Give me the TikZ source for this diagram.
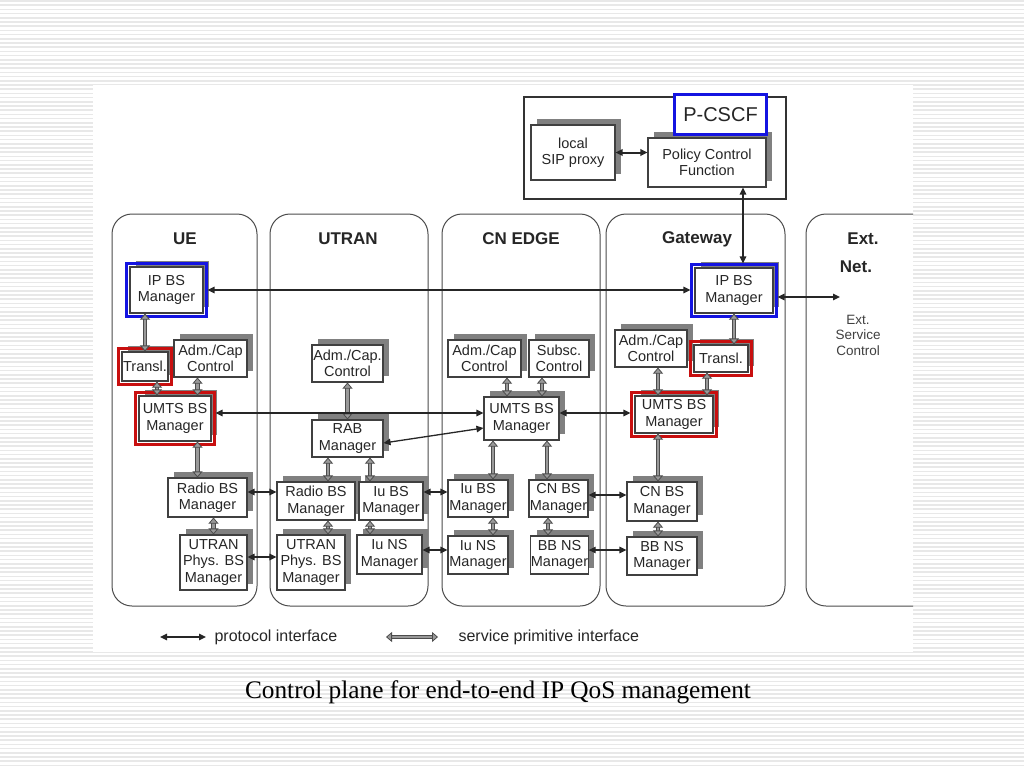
\documentclass[tikz,border=0pt]{standalone}
\usepackage{fontspec}
\setmainfont{Liberation Sans}
\newfontfamily\captionfont{Liberation Serif}
\usetikzlibrary{arrows.meta,shadows,fit}

\begin{document}
\begin{tikzpicture}[x=1pt,y=-1pt,
  box/.style={draw=black!75, line width=1.1pt, fill=white, text=black!85, align=center,
    inner sep=0pt, font=\fontsize{14.5}{16.5}\selectfont,
    general shadow={fill=black!50, shadow xshift=6pt, shadow yshift=6pt}},
  hlblue/.style={draw=myblue, line width=3pt, inner sep=2.5pt},
  hlred/.style={draw=myred, line width=3pt, inner sep=2.5pt},
  panel/.style={draw=black!70, line width=1pt, rounded corners=20pt},
  title/.style={font=\fontsize{17}{18}\selectfont\bfseries, text=black!85},
  proto/.style={draw=black!85, line width=1.3pt,
    {Triangle[length=7pt,width=6.5pt]}-{Triangle[length=7pt,width=6.5pt]}},
  spi/.style={draw=black!70, line width=1pt, double=black!40, double distance=2.8pt,
    {Triangle[length=6pt,width=10pt,fill=black!40,line width=0.8pt]}-{Triangle[length=6pt,width=10pt,fill=black!40,line width=0.8pt]}}]
  % Définir les couleurs du schéma
  \definecolor{myblue}{RGB}{20,20,225}
  \definecolor{myred}{RGB}{200,15,15}

  \useasboundingbox (0,0) rectangle (1024,768);

  % Dessiner le fond rayé et la zone blanche
  \foreach \i in {0,...,182}
    \draw[black!9, line width=1.6pt] (0,\i*4.2+1) -- (1024,\i*4.2+1);
  \fill[white] (93,85) rectangle (913,652);

  % Dessiner les colonnes
  \draw[panel] (112,214) rectangle (257,606);
  \draw[panel] (270,214) rectangle (428,606);
  \draw[panel] (442,214) rectangle (600,606);
  \draw[panel] (606,214) rectangle (785,606);
  \draw[panel] (913,214) -- (806,214) -- (806,606) -- (913,606);

  \node[title] at (185,239) (tue) {UE};
  \node[title] at (348,239) (tutran) {UTRAN};
  \node[title] at (521,239) (tcn) {CN EDGE};
  \node[title] at (697,239) (tgw) {Gateway};
  \node[title] at (863,239) (text) {Ext.};
  \node[title] at (856,267) (tnet) {Net.};
  \node[text=black!75, align=center, font=\fontsize{13.5}{15.5}\selectfont] at (858,335) (extsc) {Ext.\\Service\\Control};

  % Le bloc P-CSCF
  \draw[draw=black!80, line width=1.1pt] (524,97) rectangle (786,199);
  \node[box, minimum width=84pt, minimum height=55pt] at (573,152.5) (sip) {local\\SIP proxy};
  \node[box, minimum width=118pt, minimum height=49pt] at (707,162.5) (pcf) {Policy Control\\Function};
  \node[draw=myblue, line width=3pt, fill=white, minimum width=92pt, minimum height=40pt,
    font=\fontsize{20}{22}\selectfont, text=black!85] at (720.5,114.5) (pcscf) {P-CSCF};

  % Colonne UE
  \node[box, minimum width=73pt, minimum height=46pt] at (166.5,290) (ueip) {IP BS\\Manager};
  \node[box, minimum width=46pt, minimum height=29pt] at (145,366.5) (uetr) {Transl.};
  \node[box, minimum width=73pt, minimum height=37pt] at (210.5,358.5) (ueadm) {Adm./Cap\\Control};
  \node[box, minimum width=72pt, minimum height=45pt] at (175,418.5) (ueumts) {UMTS BS\\Manager};
  \node[box, minimum width=79pt, minimum height=39pt] at (207.5,497.5) (ueradio) {Radio BS\\Manager};
  \node[box, minimum width=67pt, minimum height=55pt] at (213.5,562.5) (uephys) {UTRAN\\Phys. BS\\Manager};
  \node[hlblue, fit=(ueip)] (ueiphl) {};
  \node[hlred, fit=(uetr)] (uetrhl) {};
  \node[hlred, fit=(ueumts)] (ueumtshl) {};

  % Colonne UTRAN
  \node[box, minimum width=71pt, minimum height=37pt] at (347.5,363.5) (utadm) {Adm./Cap.\\Control};
  \node[box, minimum width=71pt, minimum height=37pt] at (347.5,438.5) (utrab) {RAB\\Manager};
  \node[box, minimum width=78pt, minimum height=38pt] at (316,501) (utradio) {Radio BS\\Manager};
  \node[box, minimum width=64pt, minimum height=38pt] at (391,501) (utiubs) {Iu BS\\Manager};
  \node[box, minimum width=68pt, minimum height=55pt] at (311,562.5) (utphys) {UTRAN\\Phys. BS\\Manager};
  \node[box, minimum width=65pt, minimum height=39pt] at (389.5,554.5) (utiuns) {Iu NS\\Manager};

  % Colonne CN EDGE
  \node[box, minimum width=73pt, minimum height=37pt] at (484.5,358.5) (cnadm) {Adm./Cap\\Control};
  \node[box, minimum width=60pt, minimum height=37pt] at (559,358.5) (cnsub) {Subsc.\\Control};
  \node[box, minimum width=75pt, minimum height=43pt] at (521.5,418.5) (cnumts) {UMTS BS\\Manager};
  \node[box, minimum width=60pt, minimum height=37pt] at (478,498.5) (cniubs) {Iu BS\\Manager};
  \node[box, minimum width=59pt, minimum height=37pt] at (558.5,498.5) (cncnbs) {CN BS\\Manager};
  \node[box, minimum width=60pt, minimum height=38pt] at (478,555) (cniuns) {Iu NS\\Manager};
  \node[box, minimum width=57pt, minimum height=38pt] at (559.5,555) (cnbbns) {BB NS\\Manager};

  % Colonne Gateway
  \node[box, minimum width=78pt, minimum height=45pt] at (734,290.5) (gwip) {IP BS\\Manager};
  \node[box, minimum width=72pt, minimum height=37pt] at (651,348.5) (gwadm) {Adm./Cap\\Control};
  \node[box, minimum width=54pt, minimum height=27pt] at (721,358.5) (gwtr) {Transl.};
  \node[box, minimum width=78pt, minimum height=37pt] at (674,414.5) (gwumts) {UMTS BS\\Manager};
  \node[box, minimum width=70pt, minimum height=39pt] at (662,501.5) (gwcnbs) {CN BS\\Manager};
  \node[box, minimum width=70pt, minimum height=38pt] at (662,556) (gwbbns) {BB NS\\Manager};
  \node[hlblue, fit=(gwip)] (gwiphl) {};
  \node[hlred, fit=(gwtr)] (gwtrhl) {};
  \node[hlred, fit=(gwumts)] (gwumtshl) {};

  % Interfaces primitives de service
  \draw[spi] (uetr.north) -- (uetr.north |- ueip.south);
  \draw[spi] ([xshift=12pt]uetr.south) -- ([xshift=12pt]uetr.south |- ueumts.north);
  \draw[spi] ([xshift=-13pt]ueadm.south) -- ([xshift=-13pt]ueadm.south |- ueumts.north);
  \draw[spi] ([xshift=-10pt]ueradio.north) -- ([xshift=-10pt]ueradio.north |- ueumts.south);
  \draw[spi] (uephys.north) -- (uephys.north |- ueradio.south);
  \draw[spi] (utadm.south) -- (utrab.north);
  \draw[spi] ([xshift=12pt]utradio.north) -- ([xshift=12pt]utradio.north |- utrab.south);
  \draw[spi] ([xshift=-21pt]utiubs.north) -- ([xshift=-21pt]utiubs.north |- utrab.south);
  \draw[spi] ([xshift=12pt]utradio.south) -- ([xshift=12pt]utradio.south |- utphys.north);
  \draw[spi] ([xshift=-21pt]utiubs.south) -- ([xshift=-21pt]utiubs.south |- utiuns.north);
  \draw[spi] ([xshift=22.5pt]cnadm.south) -- ([xshift=22.5pt]cnadm.south |- cnumts.north);
  \draw[spi] ([xshift=-17pt]cnsub.south) -- ([xshift=-17pt]cnsub.south |- cnumts.north);
  \draw[spi] ([xshift=15pt]cniubs.north) -- ([xshift=15pt]cniubs.north |- cnumts.south);
  \draw[spi] ([xshift=-11.5pt]cncnbs.north) -- ([xshift=-11.5pt]cncnbs.north |- cnumts.south);
  \draw[spi] ([xshift=15pt]cniubs.south) -- ([xshift=15pt]cniubs.south |- cniuns.north);
  \draw[spi] ([xshift=-10.5pt]cncnbs.south) -- ([xshift=-10.5pt]cncnbs.south |- cnbbns.north);
  \draw[spi] (gwip.south) -- (gwip.south |- gwtr.north);
  \draw[spi] ([xshift=7pt]gwadm.south) -- ([xshift=7pt]gwadm.south |- gwumts.north);
  \draw[spi] ([xshift=-14pt]gwtr.south) -- ([xshift=-14pt]gwtr.south |- gwumts.north);
  \draw[spi] ([xshift=-4pt]gwcnbs.north) -- ([xshift=-4pt]gwcnbs.north |- gwumts.south);
  \draw[spi] ([xshift=-4pt]gwcnbs.south) -- ([xshift=-4pt]gwcnbs.south |- gwbbns.north);

  % Interfaces protocolaires
  \draw[proto, line width=2pt] (sip.east) -- (sip.east -| pcf.west);
  \draw[proto] ([xshift=36pt]pcf.south) -- ([xshift=36pt]pcf.south |- gwiphl.north);
  \draw[proto] (ueiphl.east) -- (ueiphl.east -| gwiphl.west);
  \draw[proto] ([yshift=5.5pt]ueumtshl.east) -- ([yshift=5.5pt]ueumtshl.east -| cnumts.west);
  \draw[proto] ([yshift=-4.5pt]utrab.east) -- ([yshift=-9.5pt]cnumts.west);
  \draw[proto] ([yshift=5.5pt]cnumts.east) -- ([yshift=5.5pt]cnumts.east -| gwumtshl.west);
  \draw[proto] ([yshift=5.5pt]ueradio.east) -- ([yshift=5.5pt]ueradio.east -| utradio.west);
  \draw[proto] ([yshift=5.5pt]uephys.east) -- ([yshift=5.5pt]uephys.east -| utphys.west);
  \draw[proto] ([yshift=9pt]utiubs.east) -- ([yshift=9pt]utiubs.east -| cniubs.west);
  \draw[proto] ([yshift=4.5pt]utiuns.east) -- ([yshift=4.5pt]utiuns.east -| cniuns.west);
  \draw[proto] ([yshift=3.5pt]cncnbs.east) -- ([yshift=3.5pt]cncnbs.east -| gwcnbs.west);
  \draw[proto] ([yshift=5pt]cnbbns.east) -- ([yshift=5pt]cnbbns.east -| gwbbns.west);
  \coordinate (extend) at (840,297);
  \draw[proto] (gwiphl.east |- extend) -- (extend);

  % Ajouter la légende
  \coordinate (lpa) at (160,637);
  \coordinate (lpb) at (206,637);
  \coordinate (lsa) at (386,637);
  \coordinate (lsb) at (438,637);
  \draw[proto] (lpa) -- (lpb);
  \draw[spi] (lsa) -- (lsb);
  \node[anchor=west, text=black!85, font=\fontsize{16}{18}\selectfont] at (211,637) (lproto) {protocol interface};
  \node[anchor=west, text=black!85, font=\fontsize{16}{18}\selectfont] at (455,637) (lspi) {service primitive interface};

  % Légende de la figure
  \node[font=\captionfont\fontsize{25.3}{28}\selectfont] at (498,692) (caption) {Control plane for end-to-end IP QoS management};
\end{tikzpicture}
\end{document}
